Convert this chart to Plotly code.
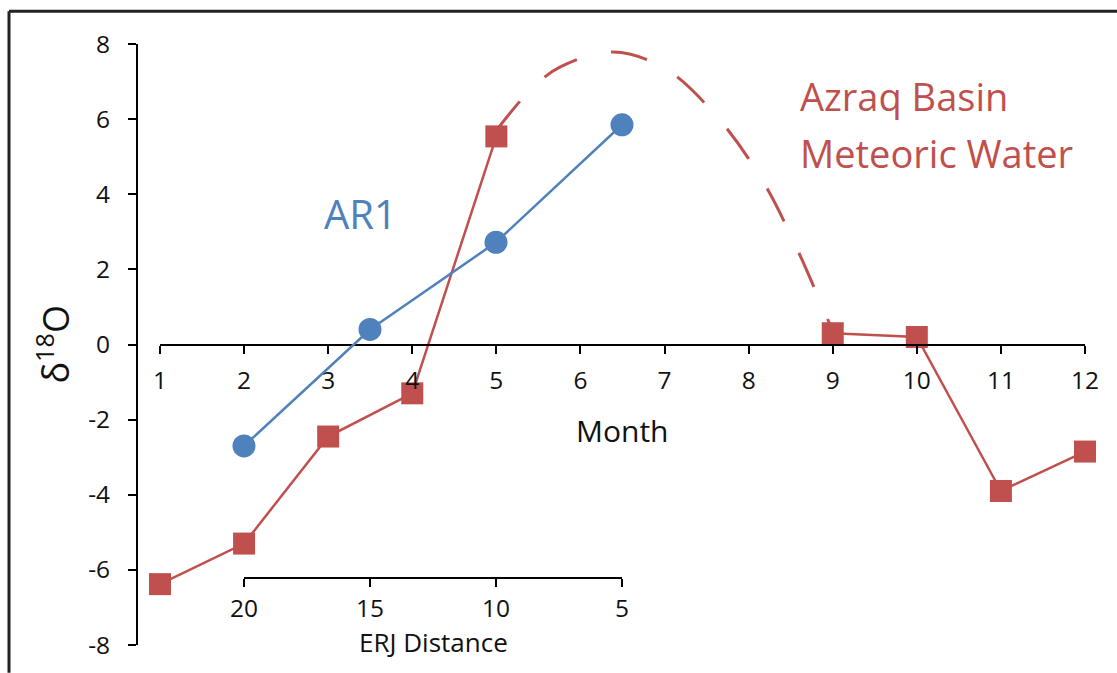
import plotly.graph_objects as go

# Azraq Basin meteoric water, monthly delta-18O
months = [1, 2, 3, 4, 5, 9, 10, 11, 12]
basin_d18o = [-6.38, -5.3, -2.45, -1.3, 5.54, 0.3, 0.2, -3.9, -2.85]

# sketched summer trend between May and September (dashed)
trend_months = [5.0, 5.42, 5.76, 6.39, 7.01, 7.64, 8.16, 8.55, 9.0]
trend_d18o = [5.7, 6.81, 7.39, 7.79, 7.34, 6.02, 4.38, 2.67, 0.35]

# AR1 profile against ERJ distance
erj_distance = [20, 15, 10, 5]
ar1_d18o = [-2.7, 0.4, 2.72, 5.85]

month_ticks = list(range(1, 13))
erj_ticks = [20, 15, 10, 5]
y_ticks = list(range(-8, 9, 2))
y_ticktext = [str(v) for v in y_ticks]

RED = "#C0504D"
BLUE = "#4F81BD"
FONT = "Open Sans"
INK = "#111"

W, H = 1117, 673
ML, MR, MT, MB = 137, 32, 44, 23
PW, PH = W - ML - MR, H - MT - MB


def px_x(p):
    return (p - ML) / PW


def px_y(p):
    return (H - MB - p) / PH


fig = go.Figure()

fig.add_trace(go.Scatter(
    x=trend_months, y=trend_d18o, xaxis="x", yaxis="y", mode="lines",
    line=dict(color=RED, width=3, dash="37px,35px", shape="spline", smoothing=1.0),
    hoverinfo="skip", showlegend=False, cliponaxis=False,
))
fig.add_trace(go.Scatter(
    x=months[:5], y=basin_d18o[:5], xaxis="x", yaxis="y", mode="lines+markers",
    line=dict(color=RED, width=2.5),
    marker=dict(symbol="square", size=22, color=RED),
    showlegend=False, cliponaxis=False,
))
fig.add_trace(go.Scatter(
    x=months[5:], y=basin_d18o[5:], xaxis="x", yaxis="y", mode="lines+markers",
    line=dict(color=RED, width=2.5),
    marker=dict(symbol="square", size=22, color=RED),
    showlegend=False, cliponaxis=False,
))
fig.add_trace(go.Scatter(
    x=erj_distance, y=ar1_d18o, xaxis="x2", yaxis="y", mode="lines+markers",
    line=dict(color=BLUE, width=2.5),
    marker=dict(symbol="circle", size=23, color=BLUE),
    showlegend=False, cliponaxis=False,
))

axis_common = dict(
    showline=True, linecolor="black", linewidth=2, ticks="outside",
    ticklen=8, tickwidth=2, tickcolor="black", showgrid=False, zeroline=False,
    tickfont=dict(family=FONT, size=24.5, color=INK),
)

fig.update_layout(
    width=W, height=H,
    margin=dict(l=ML, r=MR, t=MT, b=MB),
    paper_bgcolor="white", plot_bgcolor="rgba(0,0,0,0)",
    font=dict(family=FONT, color=INK),
    xaxis=dict(
        domain=[px_x(160), 1.0], range=[1, 12], anchor="free", position=0.5,
        tickvals=month_ticks, ticklabelstandoff=6, **axis_common,
    ),
    xaxis2=dict(
        domain=[px_x(244), px_x(622)], range=[20, 5], anchor="free",
        position=px_y(582), tickvals=erj_ticks, ticklabelstandoff=1,
        **axis_common,
    ),
    yaxis=dict(
        domain=[0, 1], range=[-8, 8], anchor="free", position=0,
        tickvals=y_ticks, ticktext=y_ticktext, ticklabelstandoff=13,
        **axis_common,
    ),
    shapes=[
        dict(type="line", xref="paper", yref="paper",
             x0=px_x(9), x1=px_x(9), y0=px_y(11), y1=px_y(H + 5),
             line=dict(color="#222", width=3)),
        dict(type="line", xref="paper", yref="paper",
             x0=px_x(9), x1=px_x(W + 5), y0=px_y(11), y1=px_y(11),
             line=dict(color="#222", width=3)),
    ],
    annotations=[
        dict(text="AR1", x=3.38, y=3.49, xref="x", yref="y", showarrow=False,
             xanchor="center", yanchor="middle",
             font=dict(family=FONT, size=40, color=BLUE)),
        dict(text="Azraq Basin", x=8.59, y=6.62, xref="x", yref="y",
             xanchor="left", yanchor="middle", showarrow=False,
             font=dict(family=FONT, size=38, color=RED)),
        dict(text="Meteoric Water", x=8.59, y=5.1, xref="x", yref="y",
             xanchor="left", yanchor="middle", showarrow=False,
             font=dict(family=FONT, size=38, color=RED)),
        dict(text="Month", x=6.5, y=-2.28, xref="x", yref="y", showarrow=False,
             xanchor="center", yanchor="middle",
             font=dict(family=FONT, size=30, color=INK)),
        dict(text="ERJ Distance", x=0.5, y=px_y(647), xref="x2 domain",
             yref="paper", showarrow=False, xanchor="center", yanchor="middle",
             font=dict(family=FONT, size=26, color=INK)),
        dict(text="δ<sup>18</sup>O", x=px_x(53), y=0.5, xref="paper",
             yref="paper", showarrow=False, textangle=-90,
             xanchor="center", yanchor="middle",
             font=dict(family=FONT, size=36, color=INK)),
    ],
)

fig.write_html("out.html")
